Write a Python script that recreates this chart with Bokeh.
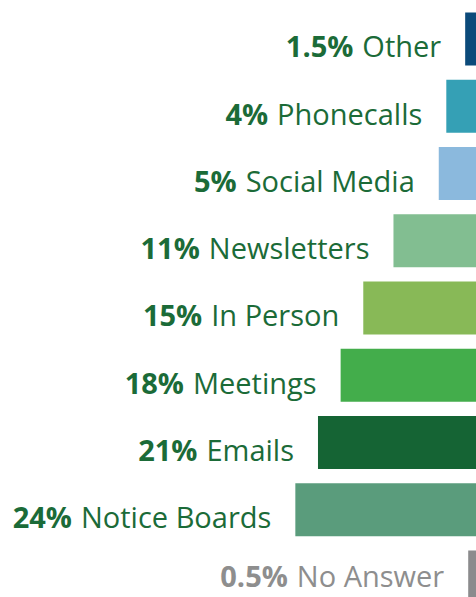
from bokeh.plotting import figure
from bokeh.models import ColumnDataSource, Range1d, CustomJSTransform
from bokeh.core.properties import value
from bokeh.embed import file_html
from bokeh.resources import INLINE

categories = ["Other", "Phonecalls", "Social Media", "Newsletters", "In Person",
              "Meetings", "Emails", "Notice Boards", "No Answer"]
values = [1.5, 4, 5, 11, 15, 18, 21, 24, 0.5]
pct_labels = ["1.5%", "4%", "5%", "11%", "15%", "18%", "21%", "24%", "0.5%"]
# drawn bar lengths (No Answer is drawn wider than its value)
bar_len = [1.5, 4, 5, 11, 15, 18, 21, 24, 1.1]
bar_colors = ["#0b4a7a", "#35a0b5", "#8bb9dd", "#82be91", "#88b957",
              "#43ad4b", "#156434", "#5a9c7c", "#8b8b8d"]
text_colors = ["#1b6b38"] * 8 + ["#8e8e8e"]

FONT = "Open Sans"
FSIZE = 29
GAP = 24
YOFF = 7

n = len(categories)
src = ColumnDataSource(dict(
    y=list(range(n)),
    left=[-v for v in bar_len],
    name=categories,
    pct=pct_labels,
    color=bar_colors,
    tcolor=text_colors,
    yoff=[YOFF] * (n - 1) + [YOFF - 8],  # keep the last label inside the page
))

p = figure(width=476, height=597, output_backend="svg", toolbar_location=None,
           x_range=Range1d(-63.06, 0), y_range=Range1d(8.305, -0.5725),
           x_axis_location=None, y_axis_location=None, min_border=0,
           outline_line_color=None, background_fill_color="white",
           border_fill_color="white")
p.grid.visible = False

p.hbar(y="y", left="left", right=0, height=0.788, color="color",
       line_color=None, source=src)

p.text(x="left", y="y", text="name", x_offset=-GAP, y_offset="yoff",
       text_align="right", text_baseline="alphabetic",
       text_font=value(FONT), text_font_size=f"{FSIZE}px",
       text_color="tcolor", source=src)

measure = CustomJSTransform(args=dict(font=f"{FSIZE}px '{FONT}'", gap=GAP + 9), v_func="""
const ctx = document.createElement("canvas").getContext("2d");
ctx.font = font;
const out = new Float64Array(xs.length);
for (let i = 0; i < xs.length; i++) {
  out[i] = -(gap + ctx.measureText(String(xs[i])).width);
}
return out;
""")

p.text(x="left", y="y", text="pct", x_offset=dict(field="name", transform=measure),
       y_offset="yoff", text_align="right", text_baseline="alphabetic",
       text_font=value(FONT), text_font_style="bold", text_font_size=f"{FSIZE}px",
       text_color="tcolor", source=src)

open("out.html", "w").write(file_html(p, INLINE))
